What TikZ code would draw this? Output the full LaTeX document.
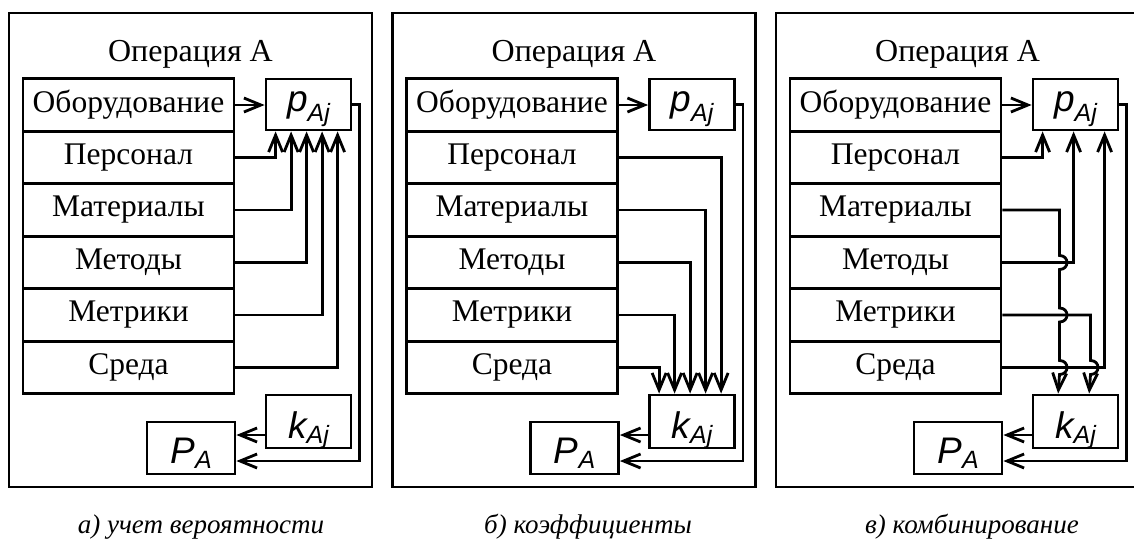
\documentclass[tikz,border=0pt]{standalone}
\usepackage{fontspec}
\setmainfont{Liberation Serif}
\setsansfont{Liberation Sans}
\usetikzlibrary{arrows.meta,calc}
% #1 main letter, #2 subscript, #3 lowering of subscript
\newcommand\symlab[3]{{\sffamily\itshape\fontsize{37}{37}\selectfont #1\raisebox{-#3}{\fontsize{25}{25}\selectfont #2}}}
\newcommand\drawpanel[1]{%
  \draw[frame] (9,13) rectangle (372,487);
  \node[titletext] (t#1) at (190.5,54) {Операция А};
  \node[row] (o#1)   at (128.5,105)   {Оборудование};
  \node[row] (per#1) at (128.5,157.5) {Персонал};
  \node[row] (mat#1) at (128.5,210)   {Материалы};
  \node[row] (met#1) at (128.5,262.5) {Методы};
  \node[row] (mtr#1) at (128.5,315)   {Метрики};
  \node[row] (sr#1)  at (128.5,367.5) {Среда};
  \node[symbox, minimum height=51pt, text height=22pt, text depth=9pt] (p#1) at (308.5,104.5) {\symlab{p}{Aj}{10pt}};
  \node[symbox, minimum height=53pt, text height=36pt, text depth=3pt] (k#1) at (308.5,421.5) {\symlab{k}{Aj}{5pt}};
  \node[symbox, minimum width=88pt, minimum height=52pt, text height=34pt, text depth=4pt] (PA#1) at (191,448) {\symlab{P}{A}{5pt}};
  \coordinate (qa#1) at ($(PA#1.east)+(0,-13)$);
  \coordinate (qb#1) at ($(PA#1.east)+(0,13)$);
  \draw[arr] (o#1.east) -- (o#1.east -| p#1.west);
  \draw[arr] (p#1.east) -- ++(7,0) |- (qb#1);
  \draw[arr] (k#1.west |- qa#1) -- (qa#1);
}
\begin{document}
\begin{tikzpicture}[x=1pt,y=-1pt,
  line width=2.8pt,
  frame/.style={draw,line width=2.8pt},
  titletext/.style={font=\fontsize{32}{38}\selectfont, inner sep=0pt},
  row/.style={draw, minimum width=211pt, minimum height=52.5pt, inner sep=0pt, font=\fontsize{31.5}{36}\selectfont},
  symbox/.style={draw, minimum width=85pt, inner sep=0pt},
  arr/.style={-{Straight Barb[length=17pt,width=14pt]}},
  captext/.style={font=\fontsize{27}{30}\selectfont\itshape, inner sep=0pt}
]
\path[use as bounding box, fill=white] (0,0) rectangle (1134,549);

% panel a
\begin{scope}
\drawpanel{1}
\draw[arr] (per1.east) -| ($(p1.south west)+(11,0)$);
\draw[arr] (mat1.east) -| ($(p1.south west)+(26.5,0)$);
\draw[arr] (met1.east) -| ($(p1.south west)+(42,0)$);
\draw[arr] (mtr1.east) -| ($(p1.south west)+(57.5,0)$);
\draw[arr] (sr1.east)  -| ($(p1.south west)+(73,0)$);
\end{scope}

% panel b
\begin{scope}[xshift=383.5pt]
\drawpanel{2}
\draw[arr] (per2.east) -| ($(k2.north west)+(73,0)$);
\draw[arr] (mat2.east) -| ($(k2.north west)+(57.5,0)$);
\draw[arr] (met2.east) -| ($(k2.north west)+(42,0)$);
\draw[arr] (mtr2.east) -| ($(k2.north west)+(26.5,0)$);
\draw[arr] (sr2.east)  -| ($(k2.north west)+(11,0)$);
\end{scope}

% panel c
\begin{scope}[xshift=767pt]
\drawpanel{3}
\draw[arr] (per3.east) -| ($(p3.south west)+(11,0)$);
\draw[arr] (met3.east) -| ($(p3.south west)+(42,0)$);
\draw[arr] (sr3.east)  -| ($(p3.south west)+(73,0)$);
\draw[arr] (mat3.east) -| (292.5,255.5)
   .. controls (302.5,255.5) and (302.5,269.5) .. (292.5,269.5)
   -- (292.5,308)
   .. controls (302.5,308) and (302.5,322) .. (292.5,322)
   -- (292.5,360.5)
   .. controls (302.5,360.5) and (302.5,374.5) .. (292.5,374.5)
   -- ($(k3.north west)+(26.5,0)$);
\draw[arr] (mtr3.east) -| (323.5,360.5)
   .. controls (333.5,360.5) and (333.5,374.5) .. (323.5,374.5)
   -- ($(k3.north west)+(57.5,0)$);
\end{scope}
\fill[white] (1134,0) rectangle (1160,549);

\node[captext] (ca) at (201,527) {а) учет вероятности};
\node[captext] (cb) at (588,527) {б) коэффициенты};
\node[captext] (cc) at (972,527) {в) комбинирование};
\end{tikzpicture}
\end{document}
